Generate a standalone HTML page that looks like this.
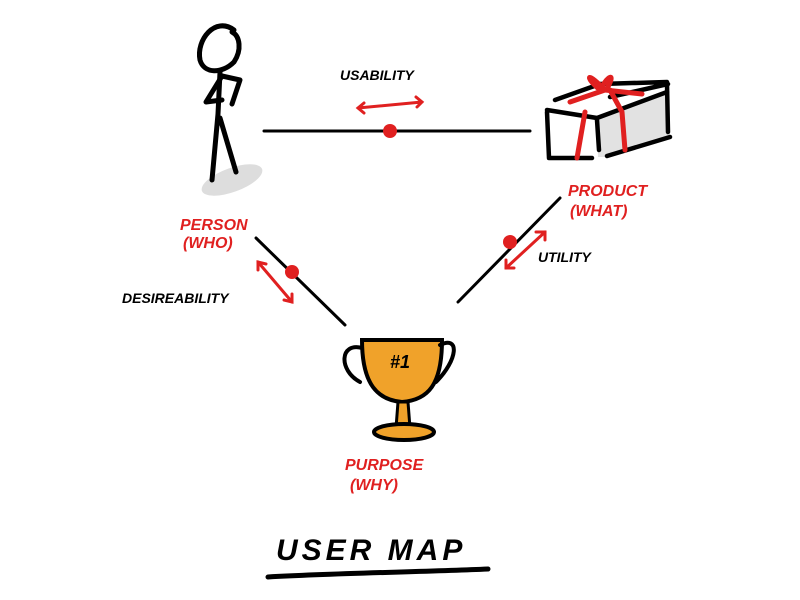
<!DOCTYPE html>
<html><head><meta charset="utf-8"><style>
html,body{margin:0;padding:0;background:#fff;width:800px;height:600px;overflow:hidden}
svg{display:block}
text{font-family:"Liberation Sans",sans-serif;font-weight:bold;font-style:italic}
</style></head><body>
<svg width="800" height="600" viewBox="0 0 800 600">
<ellipse cx="232" cy="180" rx="32" ry="12" fill="#ddd" transform="rotate(-20 232 180)"/>
<g stroke="#000" stroke-width="5" fill="none" stroke-linecap="round" stroke-linejoin="round">
<path d="M234 30 C215 16 196 40 200 60 C204 74 222 74 234 62 C242 50 240 36 232 32"/>
<path d="M220 72 L218 114 L212 180"/>
<path d="M220 118 L236 172"/>
<path d="M222 76 L206 102 L222 100"/>
<path d="M222 76 L240 80 L232 104"/>
<path d="M264 131 L530 131" stroke-width="3"/>
<path d="M256 238 L345 325" stroke-width="3"/>
<path d="M560 198 L458 302" stroke-width="3"/>
</g>
<!-- box -->
<path d="M547 112 L597 118 L598 157 L548 157Z" fill="#fff"/>
<path d="M597 118 L667 92 L670 137 L607 157 L598 157Z" fill="#e2e2e2"/>
<g stroke="#000" stroke-width="4.5" fill="none" stroke-linecap="round" stroke-linejoin="round">
<path d="M547 110 L597 118 L667 92"/>
<path d="M555 100 L600 84 L667 82 M610 97 L668 84"/>
<path d="M547 112 L549 158 L592 158"/>
<path d="M597 120 L599 150"/>
<path d="M607 156 L670 137"/>
<path d="M667 84 L668 132"/>
</g>
<g stroke="#e02020" stroke-width="5" fill="none" stroke-linecap="round" stroke-linejoin="round">
<path d="M570 102 L605 90 L642 94"/>
<path d="M610 90 L622 112 L625 150"/>
<path d="M585 112 L577 158"/>
<path d="M603 88 C585 70 586 78 600 90 C610 72 616 74 606 90"/>
</g>
<g fill="#e02020"><circle cx="390" cy="131" r="7"/><circle cx="292" cy="272" r="7"/><circle cx="510" cy="242" r="7"/></g>
<g stroke="#e02020" stroke-width="3" fill="none" stroke-linecap="round">
<path d="M358 108 L422 102 M364 103 L358 108 L364 113 M416 97 L422 102 L417 107"/>
<path d="M258 262 L292 302 M258 270 L258 262 L266 264 M284 300 L292 302 L292 294"/>
<path d="M545 232 L506 268 M536 232 L545 232 L545 240 M506 260 L506 268 L514 268"/>
</g>
<path d="M362 340 C362 385 378 400 402 402 C428 400 442 385 442 340 Z" fill="#f0a22a" stroke="#000" stroke-width="4"/>
<path d="M398 402 L396 428 L410 428 L408 402 Z" fill="#f0a22a" stroke="#000" stroke-width="3"/>
<ellipse cx="404" cy="432" rx="30" ry="8" fill="#f0a22a" stroke="#000" stroke-width="4"/>
<g stroke="#000" stroke-width="4" fill="none" stroke-linecap="round">
<path d="M362 348 C340 342 338 370 360 382"/>
<path d="M440 345 C460 335 458 360 436 382"/>
</g>
<text x="390" y="368" font-size="18" fill="#000">#1</text>
<g font-size="14" fill="#000">
<text x="340" y="80">USABILITY</text>
<text x="538" y="262">UTILITY</text>
<text x="122" y="303">DESIREABILITY</text>
</g>
<g font-size="16" fill="#e02020">
<text x="180" y="230">PERSON</text><text x="183" y="248">(WHO)</text>
<text x="568" y="196">PRODUCT</text><text x="570" y="216">(WHAT)</text>
<text x="345" y="470">PURPOSE</text><text x="350" y="490">(WHY)</text>
</g>
<text x="276" y="560" font-size="30" fill="#000" letter-spacing="4">USER MAP</text>
<path d="M268 577 C340 573 420 572 488 569" stroke="#000" stroke-width="5" fill="none" stroke-linecap="round"/>
</svg>
</body></html>
